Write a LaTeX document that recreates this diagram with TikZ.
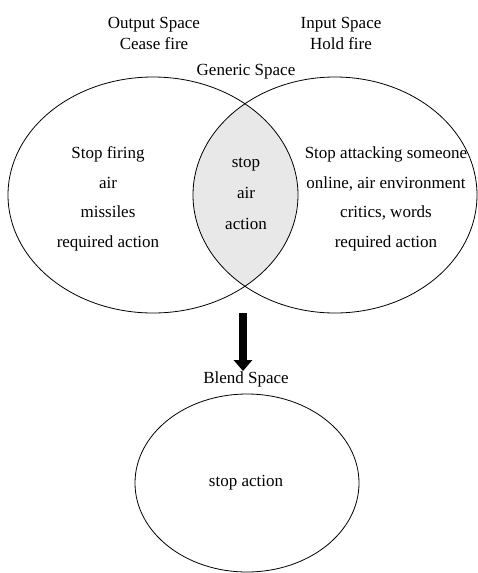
\documentclass[tikz,border=0pt]{standalone}
\usepackage{fontspec}
\setmainfont{Liberation Serif}
\usepackage{tikz}
\usetikzlibrary{shapes.geometric, arrows.meta, positioning}

\begin{document}
\begin{tikzpicture}[x=1pt, y=-1pt]
\tikzstyle{space} = [ellipse, draw, line width=0.8pt, inner sep=0pt]
\tikzstyle{lbl} = [font=\fontsize{17}{21}\selectfont, align=center, inner sep=0pt]
\tikzstyle{items} = [font=\fontsize{17}{29.5}\selectfont, align=center, inner sep=0pt]

\useasboundingbox (0,0) rectangle (477,573);

% shaded overlap
\begin{scope}
\clip (153,195) ellipse [x radius=145pt, y radius=118pt];
\fill[gray!18] (335,195) ellipse [x radius=142pt, y radius=118pt];
\end{scope}

\node (output) [space, minimum width=290pt, minimum height=236pt] at (153,195) {};
\node (input) [space, minimum width=284pt, minimum height=236pt] at (335,195) {};
\node (blend) [space, minimum width=224pt, minimum height=178pt] at (247,483) {};

\node (outlbl) [lbl] at (154,33) {Output Space\\Cease fire};
\node (inlbl) [lbl] at (341,33) {Input Space\\Hold fire};
\node (genlbl) [lbl] at (246,72) {Generic Space};

\node (outtxt) [items] at (108,199) {Stop firing\\air\\missiles\\required action};
\node (gentxt) [items, font=\fontsize{17}{31}\selectfont] at (246,194) {stop\\air\\action};
\node (intxt) [items] at (386,199) {Stop attacking someone\\online, air environment\\critics, words\\required action};

\node (blendlbl) [lbl] at (246,379) {Blend Space};
\node (blendtxt) [lbl] at (246,483) {stop action};

\coordinate (arrowtop) at (243,313);
\draw[line width=8pt, -{Triangle[width=18pt, length=11pt]}] (arrowtop) -- (arrowtop |- blendlbl.north);

\end{tikzpicture}
\end{document}
